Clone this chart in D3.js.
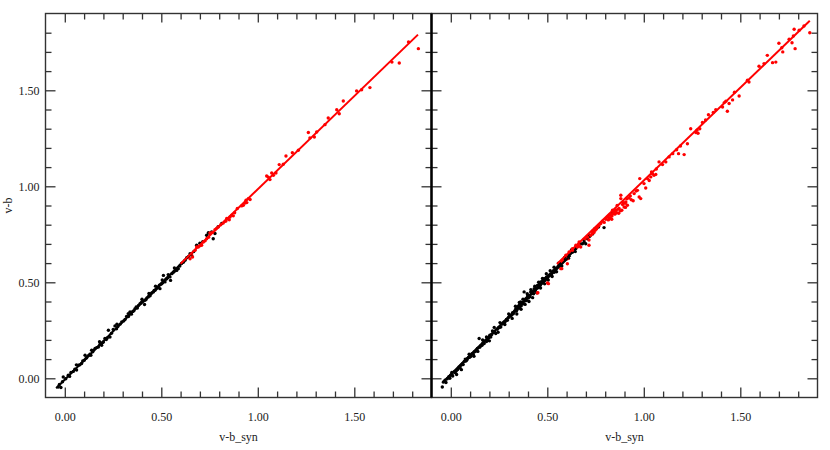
<!DOCTYPE html>
<html><head><meta charset="utf-8">
<script src="https://cdn.jsdelivr.net/npm/d3@7"></script>
<style>html,body{margin:0;padding:0;background:#fff;}svg{display:block;}</style>
</head><body>
<svg id="chart" width="830" height="450"></svg>
<script>
// ---------- data ----------
const xTitle = "v-b_syn";
const yTitle = "v-b";
const majorTicks = [0, 0.5, 1.0, 1.5];
const minorTicks = [0.1,0.2,0.3,0.4,0.6,0.7,0.8,0.9,1.1,1.2,1.3,1.4,1.6,1.7,1.8];
const domainX = [-0.1, 1.9];
const domainY = [-0.1, 1.9];

const leftBlack = [[-0.034,-0.045],[-0.020,-0.048],[-0.028,-0.032],[-0.008,0.007],[-0.012,-0.018],[0.005,-0.002],[0.018,0.016],[0.025,0.010],[0.032,0.030],[0.044,0.036],[0.052,0.047],[0.061,0.043],[0.070,0.068],[0.078,0.070],[0.087,0.077],[0.093,0.090],[0.101,0.094],[0.105,0.120],[0.110,0.104],[0.114,0.108],[0.122,0.118],[0.130,0.125],[0.139,0.146],[0.145,0.138],[0.150,0.147],[0.157,0.155],[0.165,0.160],[0.174,0.163],[0.182,0.176],[0.191,0.172],[0.196,0.186],[0.200,0.189],[0.208,0.207],[0.215,0.202],[0.226,0.250],[0.234,0.215],[0.242,0.235],[0.251,0.254],[0.260,0.273],[0.268,0.258],[0.275,0.270],[0.286,0.282],[0.295,0.293],[0.305,0.299],[0.312,0.306],[0.320,0.322],[0.329,0.337],[0.338,0.346],[0.345,0.334],[0.352,0.348],[0.358,0.352],[0.364,0.363],[0.370,0.372],[0.376,0.366],[0.382,0.380],[0.390,0.389],[0.395,0.392],[0.399,0.398],[0.405,0.401],[0.413,0.384],[0.416,0.406],[0.421,0.411],[0.426,0.419],[0.433,0.424],[0.438,0.433],[0.442,0.430],[0.447,0.441],[0.452,0.446],[0.459,0.450],[0.463,0.457],[0.468,0.458],[0.474,0.466],[0.480,0.472],[0.485,0.476],[0.490,0.485],[0.493,0.467],[0.498,0.490],[0.502,0.493],[0.507,0.498],[0.511,0.536],[0.515,0.505],[0.519,0.502],[0.524,0.516],[0.528,0.519],[0.533,0.524],[0.540,0.531],[0.545,0.528],[0.548,0.510],[0.555,0.545],[0.563,0.552],[0.572,0.560],[0.580,0.562],[0.588,0.571],[0.596,0.585],[0.605,0.598],[0.614,0.604],[0.623,0.615],[0.632,0.628],[0.640,0.633],[0.649,0.649],[0.657,0.641],[0.668,0.660],[0.683,0.693],[0.700,0.704],[0.715,0.712],[0.735,0.745],[0.744,0.758],[0.752,0.754],[0.761,0.762],[0.769,0.727],[0.778,0.754],[0.795,0.790],[0.813,0.806],[0.060,0.070],[0.135,0.120],[0.180,0.190],[0.220,0.210],[0.270,0.282],[0.330,0.322],[0.400,0.412],[0.436,0.442],[0.470,0.480],[0.505,0.512],[0.536,0.540],[0.568,0.575]];

const leftRed = [[0.649,0.623],[0.657,0.649],[0.662,0.632],[0.675,0.667],[0.683,0.684],[0.692,0.684],[0.700,0.690],[0.709,0.693],[0.718,0.710],[0.727,0.716],[0.735,0.727],[0.745,0.735],[0.752,0.757],[0.765,0.760],[0.778,0.774],[0.786,0.781],[0.795,0.788],[0.808,0.800],[0.821,0.809],[0.830,0.818],[0.835,0.819],[0.839,0.832],[0.842,0.831],[0.852,0.826],[0.856,0.840],[0.865,0.849],[0.873,0.846],[0.880,0.862],[0.894,0.884],[0.916,0.898],[0.925,0.901],[0.934,0.913],[0.939,0.927],[0.943,0.915],[0.951,0.936],[0.960,0.931],[1.046,1.054],[1.054,1.048],[1.063,1.035],[1.072,1.069],[1.081,1.057],[1.094,1.069],[1.111,1.113],[1.132,1.115],[1.146,1.158],[1.179,1.175],[1.210,1.188],[1.262,1.280],[1.270,1.252],[1.293,1.257],[1.305,1.283],[1.348,1.321],[1.365,1.356],[1.409,1.399],[1.422,1.378],[1.443,1.444],[1.512,1.497],[1.538,1.503],[1.581,1.514],[1.695,1.647],[1.733,1.642],[1.781,1.752],[1.832,1.717]];

const rightBlack = [[-0.044,-0.045],[-0.038,-0.019],[-0.030,-0.010],[-0.025,-0.022],[-0.018,-0.002],[-0.010,0.008],[-0.005,0.000],[-0.001,0.016],[0.006,0.020],[0.010,0.012],[0.017,0.033],[0.022,0.030],[0.028,0.038],[0.034,0.045],[0.038,0.050],[0.043,0.059],[0.048,0.055],[0.053,0.068],[0.060,0.076],[0.064,0.072],[0.070,0.088],[0.078,0.090],[0.082,0.094],[0.086,0.102],[0.092,0.108],[0.098,0.110],[0.104,0.115],[0.110,0.128],[0.116,0.125],[0.121,0.137],[0.127,0.140],[0.133,0.147],[0.138,0.155],[0.147,0.207],[0.150,0.162],[0.156,0.170],[0.162,0.172],[0.168,0.186],[0.173,0.181],[0.180,0.195],[0.185,0.192],[0.190,0.198],[0.196,0.210],[0.202,0.224],[0.207,0.215],[0.212,0.228],[0.216,0.247],[0.222,0.238],[0.228,0.240],[0.233,0.233],[0.240,0.255],[0.246,0.262],[0.252,0.265],[0.259,0.267],[0.265,0.282],[0.270,0.287],[0.276,0.293],[0.282,0.296],[0.288,0.306],[0.293,0.302],[0.298,0.315],[0.304,0.322],[0.310,0.326],[0.315,0.330],[0.320,0.342],[0.324,0.336],[0.328,0.345],[0.332,0.352],[0.337,0.363],[0.340,0.350],[0.344,0.358],[0.348,0.368],[0.351,0.375],[0.354,0.380],[0.357,0.366],[0.360,0.385],[0.362,0.398],[0.365,0.378],[0.368,0.390],[0.372,0.395],[0.375,0.388],[0.380,0.450],[0.383,0.402],[0.386,0.410],[0.389,0.415],[0.392,0.405],[0.395,0.420],[0.398,0.428],[0.402,0.418],[0.406,0.432],[0.410,0.425],[0.414,0.450],[0.418,0.440],[0.422,0.446],[0.426,0.452],[0.429,0.440],[0.432,0.467],[0.436,0.456],[0.440,0.462],[0.444,0.470],[0.449,0.484],[0.452,0.472],[0.456,0.480],[0.460,0.490],[0.463,0.485],[0.466,0.502],[0.470,0.495],[0.474,0.505],[0.478,0.500],[0.481,0.512],[0.484,0.519],[0.488,0.510],[0.492,0.522],[0.496,0.528],[0.500,0.520],[0.504,0.532],[0.509,0.536],[0.513,0.540],[0.518,0.545],[0.522,0.538],[0.527,0.554],[0.532,0.560],[0.536,0.552],[0.540,0.565],[0.544,0.571],[0.550,0.575],[0.556,0.582],[0.561,0.597],[0.567,0.590],[0.572,0.600],[0.578,0.606],[0.585,0.612],[0.591,0.618],[0.597,0.622],[0.604,0.632],[0.612,0.640],[0.620,0.650],[0.630,0.656],[0.639,0.667],[0.648,0.676],[0.660,0.688],[0.672,0.700],[0.682,0.701],[0.691,0.710],[0.699,0.701],[0.708,0.727],[0.716,0.745],[0.735,0.752],[0.765,0.788],[0.794,0.785],[0.838,0.862],[0.005,0.030],[0.030,0.020],[0.055,0.045],[0.075,0.100],[0.095,0.125],[0.120,0.115],[0.140,0.140],[0.165,0.200],[0.185,0.215],[0.200,0.195],[0.225,0.265],[0.245,0.240],[0.255,0.290],[0.280,0.280],[0.300,0.335],[0.318,0.312],[0.335,0.375],[0.342,0.335],[0.355,0.395],[0.364,0.360],[0.374,0.412],[0.385,0.385],[0.396,0.440],[0.405,0.400],[0.415,0.462],[0.424,0.420],[0.435,0.480],[0.445,0.445],[0.455,0.500],[0.465,0.470],[0.475,0.520],[0.486,0.492],[0.495,0.545],[0.505,0.512],[0.515,0.560],[0.525,0.530],[0.535,0.578],[0.548,0.555],[0.558,0.600],[0.575,0.585],[0.590,0.630],[0.610,0.625],[0.625,0.668],[0.645,0.660],[0.665,0.700],[0.690,0.722],[0.720,0.740],[0.745,0.778]];

const rightRed = [[0.449,0.444],[0.451,0.446],[0.501,0.496],[0.506,0.493],[0.570,0.571],[0.575,0.571],[0.578,0.606],[0.578,0.615],[0.596,0.641],[0.604,0.623],[0.604,0.597],[0.613,0.658],[0.630,0.667],[0.630,0.675],[0.648,0.693],[0.656,0.684],[0.664,0.693],[0.665,0.710],[0.673,0.684],[0.696,0.727],[0.708,0.736],[0.716,0.693],[0.716,0.720],[0.725,0.745],[0.734,0.754],[0.734,0.766],[0.742,0.760],[0.748,0.771],[0.755,0.778],[0.760,0.788],[0.768,0.795],[0.777,0.806],[0.786,0.818],[0.795,0.812],[0.803,0.828],[0.812,0.840],[0.816,0.825],[0.820,0.849],[0.826,0.836],[0.829,0.853],[0.834,0.828],[0.838,0.875],[0.842,0.858],[0.846,0.866],[0.850,0.870],[0.855,0.875],[0.860,0.862],[0.865,0.880],[0.872,0.884],[0.878,0.872],[0.881,0.953],[0.881,0.936],[0.886,0.875],[0.890,0.905],[0.898,0.892],[0.903,0.912],[0.907,0.918],[0.915,0.901],[0.924,0.939],[0.935,0.930],[0.950,0.962],[0.967,0.979],[0.976,0.944],[0.979,1.040],[0.984,0.936],[1.001,1.014],[1.010,0.991],[1.019,1.040],[1.028,1.030],[1.036,1.049],[1.045,1.066],[1.053,1.057],[1.062,1.062],[1.079,1.127],[1.097,1.113],[1.114,1.127],[1.131,1.153],[1.150,1.170],[1.170,1.190],[1.209,1.165],[1.226,1.222],[1.243,1.300],[1.270,1.280],[1.275,1.292],[1.281,1.276],[1.290,1.300],[1.304,1.332],[1.335,1.373],[1.373,1.399],[1.408,1.413],[1.417,1.436],[1.425,1.443],[1.433,1.391],[1.442,1.431],[1.494,1.470],[1.537,1.552],[1.545,1.543],[1.597,1.625],[1.623,1.639],[1.640,1.682],[1.667,1.644],[1.684,1.647],[1.715,1.722],[1.753,1.766],[1.768,1.748],[1.775,1.783],[1.779,1.818],[1.784,1.717],[1.805,1.813],[1.860,1.800],[0.820,0.830],[0.835,0.845],[0.850,0.855],[0.862,0.900],[0.870,0.860],[0.895,0.915],[0.905,0.890],[0.912,0.935],[0.930,0.950],[0.945,0.925],[0.960,0.975],[1.040,1.075],[1.065,1.090],[1.180,1.170],[1.190,1.210],[1.320,1.345],[1.360,1.385],[1.460,1.450],[1.470,1.490],[1.700,1.745],[1.720,1.700],[1.830,1.835]];

// fitted lines (endpoints in data units)
const leftBlackFit = [[-0.045,-0.052],[0.66,0.655]];
const leftRedFit = [[0.60,0.597],[1.83,1.790]];
const rightBlackFit = [[-0.045,-0.024],[0.62,0.640]];
const rightRedFit = [[0.55,0.595],[1.86,1.862]];

// ---------- layout ----------
const svg = d3.select("#chart");
const plotTop = 13.5, plotBottom = 397.5;
const y = d3.scaleLinear().domain(domainY).range([plotBottom, plotTop]);
const xL = d3.scaleLinear().domain(domainX).range([45.5, 431.5]);
const xR = d3.scaleLinear().domain(domainX).range([431.5, 817.5]);
const fmt = d3.format(".2f");
const frameColor = "#333";
const fontFam = "'Liberation Serif','Times New Roman',serif";

function axes(g, x, showY) {
  const x0 = x.range()[0], x1 = x.range()[1];
  g.append("g").attr("transform", `translate(0,${plotBottom})`)
    .call(d3.axisBottom(x).tickValues(majorTicks).tickSizeInner(-10).tickSizeOuter(0).tickPadding(15).tickFormat(fmt));
  g.append("g").attr("transform", `translate(0,${plotBottom})`)
    .call(d3.axisBottom(x).tickValues(minorTicks).tickSizeInner(-6).tickSizeOuter(0).tickFormat(""));
  g.append("g").attr("transform", `translate(0,${plotTop})`)
    .call(d3.axisTop(x).tickValues(majorTicks).tickSizeInner(-9).tickSizeOuter(0).tickFormat(""));
  g.append("g").attr("transform", `translate(0,${plotTop})`)
    .call(d3.axisTop(x).tickValues(minorTicks).tickSizeInner(-6).tickSizeOuter(0).tickFormat(""));
  g.append("g").attr("transform", `translate(${x0},0)`)
    .call(d3.axisLeft(y).tickValues(majorTicks).tickSizeInner(-10).tickSizeOuter(0).tickPadding(6).tickFormat(showY ? fmt : ""));
  g.append("g").attr("transform", `translate(${x0},0)`)
    .call(d3.axisLeft(y).tickValues(minorTicks).tickSizeInner(-6).tickSizeOuter(0).tickFormat(""));
  g.append("g").attr("transform", `translate(${x1},0)`)
    .call(d3.axisRight(y).tickValues(majorTicks).tickSizeInner(-10).tickSizeOuter(0).tickFormat(""));
  g.append("g").attr("transform", `translate(${x1},0)`)
    .call(d3.axisRight(y).tickValues(minorTicks).tickSizeInner(-6).tickSizeOuter(0).tickFormat(""));
  g.selectAll(".domain").remove();
  g.selectAll(".tick line").attr("stroke", frameColor).attr("stroke-width", 1.3);
  g.selectAll(".tick text").attr("font-family", fontFam).attr("font-size", 12).attr("fill", "#222");
  g.append("rect").attr("x", x0).attr("y", plotTop).attr("width", x1 - x0).attr("height", plotBottom - plotTop)
    .attr("fill", "none").attr("stroke", frameColor).attr("stroke-width", 1.4);
  g.append("text").attr("x", (x0 + x1) / 2).attr("y", 441).attr("text-anchor", "middle")
    .attr("font-family", fontFam).attr("font-size", 12).attr("fill", "#222").text(xTitle);
}

function points(g, x, data, color) {
  g.append("g").selectAll("circle").data(data).join("circle")
    .attr("cx", d => x(d[0])).attr("cy", d => y(d[1])).attr("r", 1.7).attr("fill", color);
}
function fit(g, x, data, color) {
  g.append("path").datum(data)
    .attr("d", d3.line().x(d => x(d[0])).y(d => y(d[1])))
    .attr("stroke", color).attr("stroke-width", 2).attr("fill", "none");
}

const gL = svg.append("g"), gR = svg.append("g");
axes(gL, xL, true);
axes(gR, xR, false);

points(gL, xL, leftBlack, "#000");
points(gL, xL, leftRed, "#ff0000");
fit(gL, xL, leftBlackFit, "#000");
fit(gL, xL, leftRedFit, "#ff0000");

points(gR, xR, rightBlack, "#000");
points(gR, xR, rightRed, "#ff0000");
fit(gR, xR, rightBlackFit, "#000");
fit(gR, xR, rightRedFit, "#ff0000");

svg.append("line").attr("x1", xL.range()[1]).attr("x2", xL.range()[1]).attr("y1", plotTop).attr("y2", plotBottom)
  .attr("stroke", "#000").attr("stroke-width", 2.4);

svg.append("text").attr("transform", `translate(12,${(plotTop + plotBottom) / 2}) rotate(-90)`)
  .attr("text-anchor", "middle").attr("font-family", fontFam).attr("font-size", 12).attr("fill", "#222").text(yTitle);
</script>
</body></html>
